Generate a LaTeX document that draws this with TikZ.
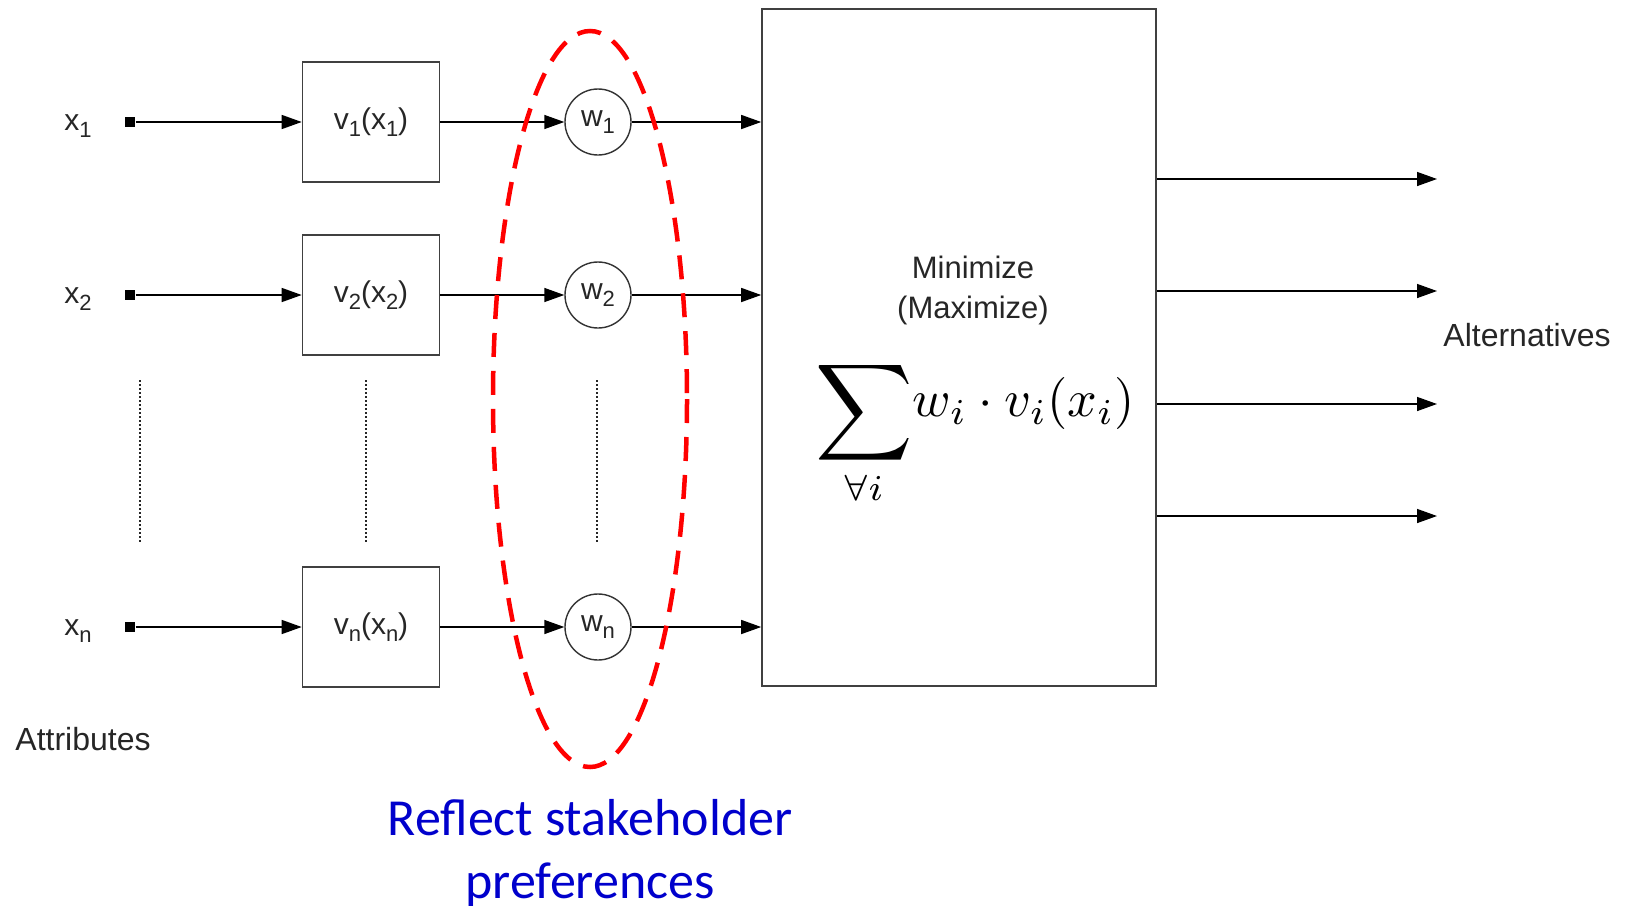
\documentclass[tikz,border=0pt]{standalone}
\usepackage{fontspec}
\setmainfont{Liberation Sans}
\newfontfamily\notefont{Carlito}
\usetikzlibrary{arrows.meta}

% subscripts as the value boxes print them: large and set low
\newcommand{\lowsub}[1]{\raisebox{-0.22em}{\fontsize{22}{22}\selectfont #1}}

\tikzset{
  label/.style={font=\fontsize{30}{36}\selectfont, text=black!85},
  port/.style={fill=black, inner sep=0pt, minimum size=10pt},
  valbox/.style={draw=black!75, line width=1.6pt, minimum width=137pt, minimum height=120pt,
    inner sep=0pt, font=\fontsize{30}{36}\selectfont, text=black!85},
  wcirc/.style={circle, draw=black!80, line width=1.4pt, minimum size=66pt, inner sep=0pt,
    font=\fontsize{30}{36}\selectfont, text=black!85},
  pref/.style={red, line width=4.5pt, dash pattern=on 24pt off 14pt},
}

\begin{document}
\begin{tikzpicture}[x=1pt, y=-1pt, line width=1.4pt, >={Triangle[length=20pt,width=14pt]}]
  \useasboundingbox (0,0) rectangle (1629,905);

  % 1. The aggregation block on the right
  \node[draw=black!75, line width=1.6pt, minimum width=394pt, minimum height=677pt, inner sep=0pt]
    (big) at (959,347.5) {};
  \node[label, align=center, font=\fontsize{31}{40}\selectfont] (goal) at (973,290)
    {Minimize\\(Maximize)};
  \node (formula) at (975,432)
    {\scalebox{5.2}{$\displaystyle\mathop{\raisebox{-0.25em}{\scalebox{1.3}{$\displaystyle\sum$}}}\limits_{\forall i}\! w_i\cdot v_i(x_i)$}};

  % 2. One row per attribute: input, value function, weight
  \foreach \r/\y in {1/122, 2/295, n/627} {
    \node[label] (x\r) at (78,\y+4) {x\lowsub{\r}};
    \node[port] (dot\r) at (130,\y) {};
    \node[valbox] (v\r) at (371,\y) {v\lowsub{\r}(x\lowsub{\r})};
    \node[wcirc] (w\r) at (598,\y) {w\lowsub{\r}};
    \draw[->] (dot\r) -- (v\r);
    \draw[->] (v\r) -- (w\r);
    \draw[->] (w\r) -- (w\r -| big.west);
  }

  % 3. Dotted gaps between row 2 and row n
  \foreach \x in {140, 366, 597} {
    \draw[black!85, line width=1.5pt, dash pattern=on 2pt off 2pt] (\x,380) -- (\x,542);
  }

  % 4. Outputs to the alternatives
  \foreach \i/\y in {1/179, 2/291, 3/404, 4/516} {
    \coordinate (out\i) at (1437,\y);
    \draw[->] (big.east |- out\i) -- (out\i);
  }
  \node[label, font=\fontsize{32}{38}\selectfont] (alts) at (1527,335) {Alternatives};
  \node[label, font=\fontsize{32}{38}\selectfont] (attrs) at (83,739) {Attributes};

  % 5. The weights come from the stakeholders
  \draw[pref] (590,399) ellipse [x radius=97, y radius=368];
  \node[align=center, text=blue!80!black, font=\notefont\fontsize{52}{63}\selectfont]
    (note) at (590,853) {Reflect stakeholder\\preferences};
\end{tikzpicture}
\end{document}
